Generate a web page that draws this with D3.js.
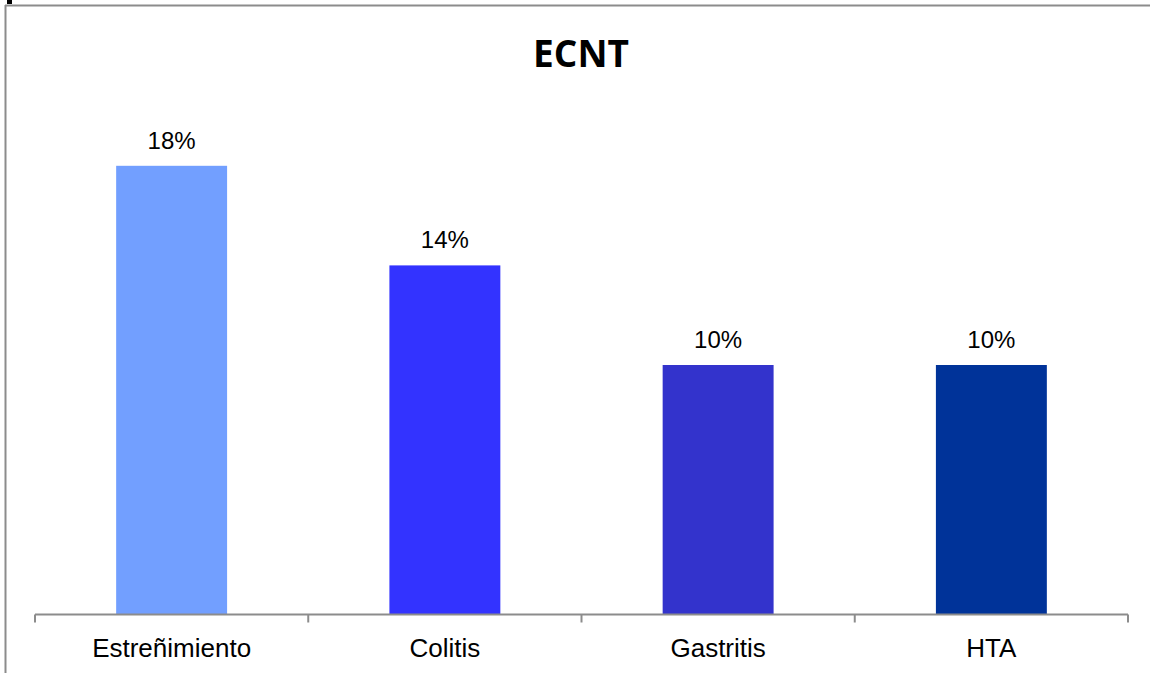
<!DOCTYPE html>
<html><head><meta charset="utf-8">
<script src="https://cdn.jsdelivr.net/npm/d3@7"></script>
<style>body{margin:0;background:#fff;}svg{display:block;}</style>
</head><body>
<script>
const title = "ECNT";
const categories = ["Estreñimiento", "Colitis", "Gastritis", "HTA"];
const values = [18, 14, 10, 10];
const labels = ["18%", "14%", "10%", "10%"];
const colors = ["#729FFF", "#3333FF", "#3333CC", "#003399"];

const W = 1150, H = 673;
const svg = d3.select("body").append("svg").attr("width", W).attr("height", H);

// outer frame
svg.append("line").attr("x1", 5).attr("x2", W).attr("y1", 5.5).attr("y2", 5.5).attr("stroke", "#8c8c8c").attr("stroke-width", 2);
svg.append("line").attr("x1", 5.5).attr("x2", 5.5).attr("y1", 5).attr("y2", H).attr("stroke", "#8c8c8c").attr("stroke-width", 2);
svg.append("rect").attr("x", 7).attr("y", 0).attr("width", 5).attr("height", 4).attr("fill", "#000");

const x = d3.scaleBand().domain(categories).range([35, 1128]).padding(0);
const y = d3.scaleLinear().domain([0, 20]).range([614, 116]);
const barFrac = 0.406;

svg.append("text").attr("x", 581).attr("y", 67).attr("text-anchor", "middle")
  .attr("font-family", "'Open Sans', 'Liberation Sans', sans-serif").attr("font-weight", "bold")
  .attr("font-size", 37).attr("fill", "#000").text(title);

const g = svg.append("g");
g.selectAll("rect.bar").data(categories).join("rect").attr("class", "bar")
  .attr("x", d => x(d) + x.bandwidth() * (1 - barFrac) / 2)
  .attr("width", x.bandwidth() * barFrac)
  .attr("y", (d, i) => y(values[i]))
  .attr("height", (d, i) => y(0) - y(values[i]))
  .attr("fill", (d, i) => colors[i]);

g.selectAll("text.val").data(categories).join("text").attr("class", "val")
  .attr("x", d => x(d) + x.bandwidth() / 2)
  .attr("y", (d, i) => y(values[i]) - 17)
  .attr("text-anchor", "middle")
  .attr("font-family", "'Liberation Sans', Arial, sans-serif").attr("font-size", 24)
  .attr("fill", "#000")
  .text((d, i) => labels[i]);

// axis
const axis = svg.append("g").attr("transform", "translate(0,614.5)");
axis.append("line").attr("x1", 35).attr("x2", 1128).attr("stroke", "#8c8c8c").attr("stroke-width", 2);
const ticks = categories.map(d => x(d)).concat([x.range()[1]]);
axis.selectAll("line.tick").data(ticks).join("line").attr("class", "tick")
  .attr("x1", d => d).attr("x2", d => d).attr("y1", 0).attr("y2", 8)
  .attr("stroke", "#8c8c8c").attr("stroke-width", 2);
axis.selectAll("text").data(categories).join("text")
  .attr("x", d => x(d) + x.bandwidth() / 2).attr("y", 42)
  .attr("text-anchor", "middle")
  .attr("font-family", "'Liberation Sans', Arial, sans-serif").attr("font-size", 26)
  .attr("fill", "#000").text(d => d);
</script>
</body></html>
